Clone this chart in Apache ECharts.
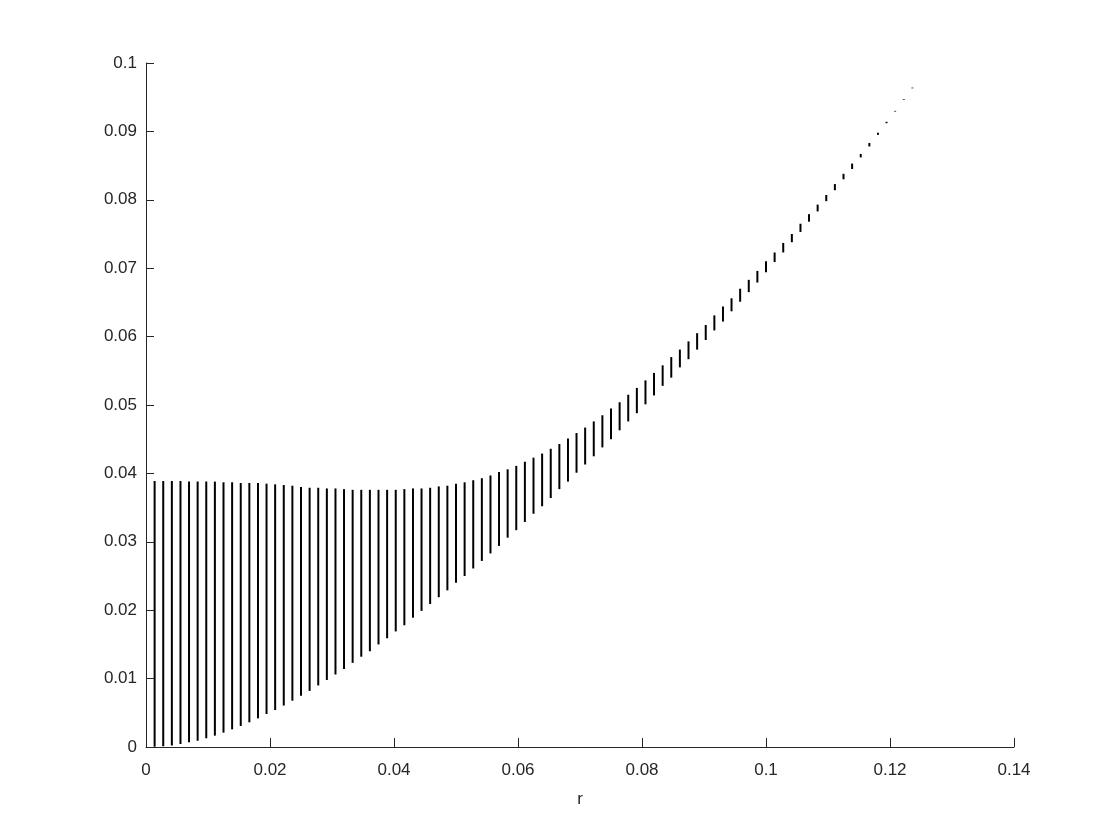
<!DOCTYPE html>
<html>
<head>
<meta charset="utf-8">
<title>r</title>
<script src="https://cdn.jsdelivr.net/npm/echarts@6/dist/echarts.min.js"></script>
<style>
  html, body { margin: 0; padding: 0; background: #fff; }
  #chart { width: 1120px; height: 840px; }
</style>
</head>
<body>
<div id="chart"></div>
<script>
// r positions of the vertical segments
const rValues = [
  0.00139, 0.00278, 0.00417, 0.00556, 0.00694, 0.00833, 0.00972, 0.01111, 0.01250, 0.01389,
  0.01528, 0.01667, 0.01806, 0.01944, 0.02083, 0.02222, 0.02361, 0.02500, 0.02639, 0.02778,
  0.02917, 0.03056, 0.03194, 0.03333, 0.03472, 0.03611, 0.03750, 0.03889, 0.04028, 0.04167,
  0.04306, 0.04444, 0.04583, 0.04722, 0.04861, 0.05000, 0.05139, 0.05278, 0.05417, 0.05556,
  0.05694, 0.05833, 0.05972, 0.06111, 0.06250, 0.06389, 0.06528, 0.06667, 0.06806, 0.06944,
  0.07083, 0.07222, 0.07361, 0.07500, 0.07639, 0.07778, 0.07917, 0.08056, 0.08194, 0.08333,
  0.08472, 0.08611, 0.08750, 0.08889, 0.09028, 0.09167, 0.09306, 0.09444, 0.09583, 0.09722,
  0.09861, 0.10000, 0.10139, 0.10278, 0.10417, 0.10556, 0.10694, 0.10833, 0.10972, 0.11111,
  0.11250, 0.11389, 0.11528, 0.11667, 0.11806, 0.11944, 0.12083, 0.12222, 0.12361
];
// bottom end of each segment
const lowerValues = [
  0.00003, 0.00011, 0.00022, 0.00044, 0.00068, 0.00093, 0.00127, 0.00166, 0.00210, 0.00258,
  0.00307, 0.00361, 0.00419, 0.00482, 0.00541, 0.00606, 0.00677, 0.00748, 0.0082, 0.0090,
  0.0098, 0.0106, 0.0114, 0.0123, 0.0132, 0.0140, 0.0150, 0.0159, 0.0169, 0.0178,
  0.0189, 0.0199, 0.0209, 0.0219, 0.0229, 0.0240, 0.0250, 0.0261, 0.0272, 0.0283,
  0.0294, 0.0306, 0.0317, 0.0329, 0.0341, 0.0352, 0.0364, 0.0377, 0.0388, 0.0401,
  0.0413, 0.0425, 0.0438, 0.0450, 0.0463, 0.0476, 0.0488, 0.0501, 0.0514, 0.0528,
  0.0540, 0.0555, 0.0567, 0.0581, 0.0595, 0.0609, 0.0622, 0.0637, 0.0651, 0.0665,
  0.0679, 0.0694, 0.0709, 0.0723, 0.0738, 0.0753, 0.0768, 0.0783, 0.0798, 0.0814,
  0.0830, 0.0845, 0.0862, 0.0878, 0.0895, 0.0912, 0.0929, 0.0946, 0.0963
];
// top end of each segment
const upperValues = [
  0.0389, 0.0389, 0.0389, 0.0389, 0.0388, 0.0388, 0.0388, 0.0388, 0.0387, 0.0387,
  0.0386, 0.0386, 0.0386, 0.0385, 0.0384, 0.0383, 0.0382, 0.0380, 0.0379, 0.0379,
  0.0378, 0.0378, 0.0377, 0.0376, 0.0376, 0.0376, 0.0376, 0.0376, 0.0376, 0.0377,
  0.0378, 0.0378, 0.0379, 0.0381, 0.0382, 0.0385, 0.0387, 0.0390, 0.0393, 0.0397,
  0.0402, 0.0406, 0.0411, 0.0417, 0.0423, 0.0429, 0.0436, 0.0443, 0.0451, 0.0459,
  0.0467, 0.0476, 0.0485, 0.0495, 0.0504, 0.0515, 0.0525, 0.0536, 0.0547, 0.0558,
  0.0570, 0.0581, 0.0593, 0.0605, 0.0617, 0.0631, 0.0644, 0.0656, 0.0670, 0.0683,
  0.0696, 0.0710, 0.0723, 0.0737, 0.0750, 0.0765, 0.0779, 0.0793, 0.0807, 0.0823,
  0.0838, 0.0853, 0.0867, 0.0883, 0.0898, 0.0914, 0.0930, 0.0947, 0.0964
];

const axisColor = '#262626';
const fontFamily = '"Liberation Sans", Arial, sans-serif';

const chart = echarts.init(document.getElementById('chart'));

const segData = rValues.map((r, i) => [r, lowerValues[i], upperValues[i]]);

const fmt = (v) => String(+v.toFixed(4));

chart.setOption({
  backgroundColor: '#fff',
  animation: false,
  grid: { left: 146, right: 106, top: 63, bottom: 93 },
  xAxis: {
    type: 'value',
    min: 0,
    max: 0.14,
    interval: 0.02,
    name: 'r',
    nameLocation: 'middle',
    nameGap: 44,
    nameTextStyle: { color: axisColor, fontSize: 17, fontFamily: fontFamily },
    axisLine: { show: true, onZero: false, lineStyle: { color: axisColor, width: 1 } },
    axisTick: { show: true, inside: true, length: 9, lineStyle: { color: axisColor } },
    axisLabel: { color: axisColor, fontSize: 17, fontFamily: fontFamily, margin: 15, formatter: fmt },
    splitLine: { show: false }
  },
  yAxis: {
    type: 'value',
    min: 0,
    max: 0.1,
    interval: 0.01,
    axisLine: { show: true, onZero: false, lineStyle: { color: axisColor, width: 1 } },
    axisTick: { show: true, inside: true, length: 8, lineStyle: { color: axisColor } },
    axisLabel: { color: axisColor, fontSize: 17, fontFamily: fontFamily, margin: 9, formatter: fmt },
    splitLine: { show: false }
  },
  series: [
    {
      type: 'custom',
      data: segData,
      encode: { x: 0, y: [1, 2] },
      renderItem: function (params, api) {
        const p1 = api.coord([api.value(0), api.value(1)]);
        const p2 = api.coord([api.value(0), api.value(2)]);
        return {
          type: 'line',
          shape: { x1: p1[0], y1: p1[1], x2: p2[0], y2: p2[1] },
          style: { stroke: '#000', lineWidth: 2 }
        };
      }
    }
  ]
});
</script>
</body>
</html>
